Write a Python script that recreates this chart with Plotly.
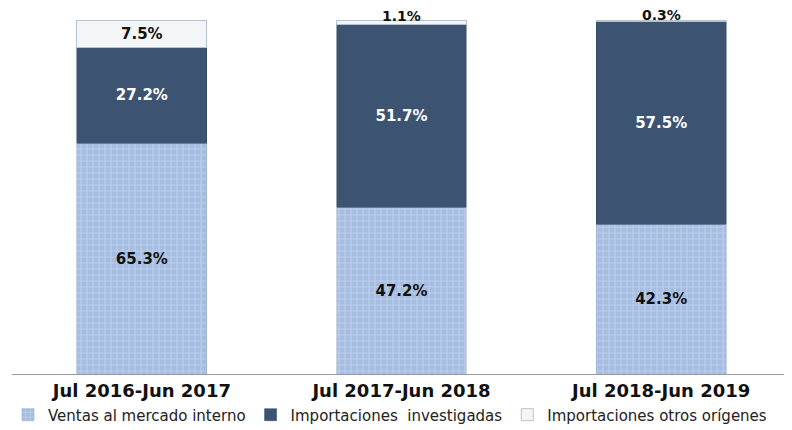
import plotly.graph_objects as go

categories = ["Jul 2016-Jun 2017", "Jul 2017-Jun 2018", "Jul 2018-Jun 2019"]
ventas = [65.3, 47.2, 42.3]
imp_inv = [27.2, 51.7, 57.5]
imp_otros = [7.5, 1.1, 0.3]
series_names = ["Ventas al mercado interno", "Importaciones  investigadas", "Importaciones otros orígenes"]

FONT = "DejaVu Sans, Verdana, sans-serif"
SMALL = 3.0  # segments below this get their label above the bar

def fmt(vals):
    return [f"<b>{v:.1f}%</b>" for v in vals]

totals = [a + b + c for a, b, c in zip(ventas, imp_inv, imp_otros)]
otros_text = [t if v >= SMALL else "" for t, v in zip(fmt(imp_otros), imp_otros)]

fig = go.Figure()
fig.add_trace(go.Bar(
    x=categories, y=ventas, name=series_names[0],
    marker=dict(color="#a6bde2", line=dict(color="#8fa3c0", width=0.5),
                pattern=dict(shape="+", size=6, solidity=0.35, fgcolor="#d3dff2")),
    text=fmt(ventas), textposition="inside", insidetextanchor="middle",
    textfont=dict(family=FONT, size=15, color="#111111"),
))
fig.add_trace(go.Bar(
    x=categories, y=imp_inv, name=series_names[1],
    marker=dict(color="#3d5372", line=dict(color="#33465f", width=0.5)),
    text=fmt(imp_inv), textposition="inside", insidetextanchor="middle",
    textfont=dict(family=FONT, size=15, color="#ffffff"),
))
fig.add_trace(go.Bar(
    x=categories, y=imp_otros, name=series_names[2],
    marker=dict(color="#f4f5f7", line=dict(color="#b7c3d0", width=1)),
    text=otros_text, textposition="inside", insidetextanchor="middle",
    textfont=dict(family=FONT, size=15, color="#111111"),
))

for cat, v, tot, lab in zip(categories, imp_otros, totals, fmt(imp_otros)):
    if v < SMALL:
        fig.add_annotation(x=cat, y=tot, text=lab, showarrow=False,
                           yanchor="middle", yshift=5,
                           font=dict(family=FONT, size=14, color="#111111"))

fig.update_layout(
    barmode="stack",
    bargap=0.5,
    width=792, height=430,
    margin=dict(l=4, r=9, t=12, b=64, autoexpand=False),
    paper_bgcolor="white", plot_bgcolor="white",
    font=dict(family=FONT, size=14, color="#111111"),
    uniformtext=dict(mode="show", minsize=8),
    xaxis=dict(showline=True, linecolor="#9a9a9a", linewidth=1, ticks="",
               tickprefix="<b>", ticksuffix="</b>",
               tickfont=dict(family=FONT, size=18, color="#111111")),
    yaxis=dict(range=[0, 100.15], visible=False),
    legend=dict(orientation="h", xref="container", x=0.0, xanchor="left",
                yref="container", y=0.092, yanchor="top",
                bgcolor="rgba(0,0,0,0)",
                font=dict(family=FONT, size=15, color="#222222"),
                itemwidth=30, tracegroupgap=0, traceorder="normal"),
    showlegend=True,
)

fig.write_html("out.html")
